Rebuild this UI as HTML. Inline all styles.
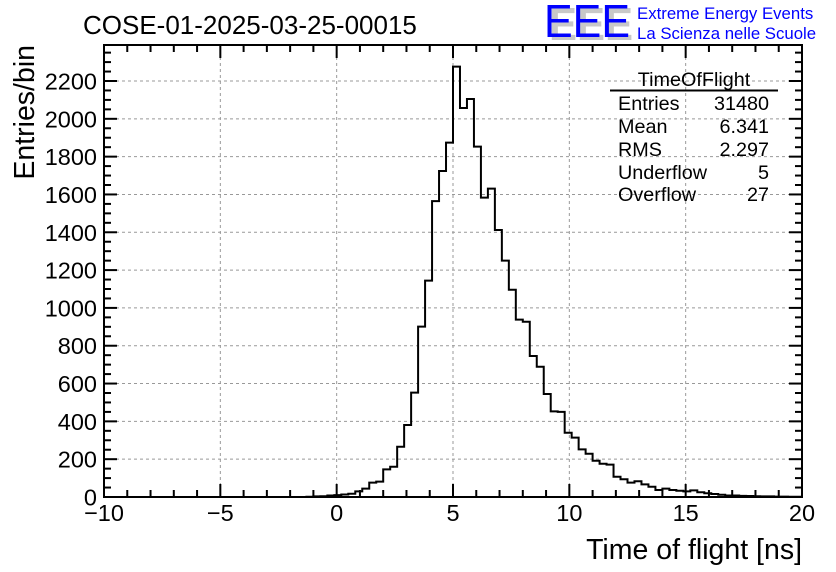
<!DOCTYPE html>
<html><head><meta charset="utf-8">
<style>
html,body{margin:0;padding:0;background:#fff;}
svg{display:block;font-family:"Liberation Sans",sans-serif;}
</style></head>
<body>
<svg id="chart" width="836" height="572" viewBox="0 0 836 572" xmlns="http://www.w3.org/2000/svg">
<rect width="836" height="572" fill="#fff"/>
<text x="83" y="34" font-size="26">COSE-01-2025-03-25-00015</text>
<g>
<text x="549" y="40" font-size="46" fill="#c8c8c8" font-weight="bold" textLength="84" lengthAdjust="spacingAndGlyphs">EEE</text>
<text x="544" y="37" font-size="46" fill="#0000ff" textLength="86" lengthAdjust="spacingAndGlyphs">EEE</text>
<text x="637" y="19" font-size="16.8" fill="#0000ff">Extreme Energy Events</text>
<text x="637" y="39" font-size="16.8" fill="#0000ff">La Scienza nelle Scuole</text>
</g>
<g id="grid"></g>
<g id="ticks"></g>
<path id="hist" fill="none" stroke="#000" stroke-width="2"/>
<rect x="104" y="45" width="698" height="452" fill="none" stroke="#000" stroke-width="2"/>
<g id="labels" font-size="23.5"></g>
<text x="802" y="559" font-size="28.5" text-anchor="end">Time of flight [ns]</text>
<text transform="translate(34,45) rotate(-90)" font-size="28.5" text-anchor="end">Entries/bin</text>
<g font-size="19.8">
<text x="694" y="86" text-anchor="middle">TimeOfFlight</text>
<line x1="610" y1="90.5" x2="778" y2="90.5" stroke="#000" stroke-width="2"/>
<text x="618" y="110">Entries</text><text x="769" y="110" text-anchor="end">31480</text>
<text x="618" y="133">Mean</text><text x="769" y="133" text-anchor="end">6.341</text>
<text x="618" y="156">RMS</text><text x="769" y="156" text-anchor="end">2.297</text>
<text x="618" y="179">Underflow</text><text x="769" y="179" text-anchor="end">5</text>
<text x="618" y="201">Overflow</text><text x="769" y="201" text-anchor="end">27</text>
</g>
</svg>
<script>
const binLow = -10;
const binWidth = 0.3;
const counts = [0,0,0,0,0,0,0,0,0,0, 0,0,0,0,0,0,0,0,0,0, 0,0,0,0,0,0,0,0,0,1,
3,4,8,10,13,17,30,44,76,81,
146,160,266,381,552,901,1144,1565,1724,1874,
2276,2057,2105,1853,1583,1631,1412,1250,1096,938,
927,746,689,545,453,450,340,314,252,229,
192,176,171,107,94,76,83,67,54,37,
44,37,33,30,35,25,20,16,12,8,
8,6,5,4,3,3,2,2,1,1];
const xTicks = [-10,-5,0,5,10,15,20];
const yTicks = [0,200,400,600,800,1000,1200,1400,1600,1800,2000,2200];
const xMin=-10,xMax=20,yMin=0,yMax=2390;
const L=104,R=802,T=45,B=497;
function X(v){return L+(v-xMin)/(xMax-xMin)*(R-L);}
function Y(v){return B-(v-yMin)*(416/2200);}
const NS="http://www.w3.org/2000/svg";
function mk(tag,attrs,parent){const e=document.createElementNS(NS,tag);for(const k in attrs)e.setAttribute(k,attrs[k]);parent.appendChild(e);return e;}
const grid=document.getElementById('grid'),ticks=document.getElementById('ticks'),labels=document.getElementById('labels');
xTicks.forEach(v=>{
  if(v>xMin&&v<xMax){const g=mk('line',{x1:X(v),x2:X(v),y1:T,y2:B,stroke:'#999','stroke-dasharray':'3,3','stroke-width':1},grid);
  
  }
  const t=mk('text',{x:X(v),y:521,'text-anchor':'middle'},labels);
  t.textContent=(v<0?'\u2212'+(-v):''+v);
  
  
});
yTicks.forEach(v=>{
  if(v>0){const g=mk('line',{x1:L,x2:R,y1:Y(v),y2:Y(v),stroke:'#999','stroke-dasharray':'3,3','stroke-width':1},grid);
  
  }
  const t=mk('text',{x:97,y:Y(v)+8.5,'text-anchor':'end'},labels);
  t.textContent=v;
  
  
});
for(let v=xMin;v<=xMax;v++){const len=(v%5===0)?13:7;
  mk('line',{x1:X(v),x2:X(v),y1:B,y2:B-len,stroke:'#000','stroke-width':2},ticks);
  mk('line',{x1:X(v),x2:X(v),y1:T,y2:T+len,stroke:'#000','stroke-width':2},ticks);}
for(let v=0;v<=yMax;v+=50){const len=(v%200===0)?13:7;
  mk('line',{x1:L,x2:L+len,y1:Y(v),y2:Y(v),stroke:'#000','stroke-width':2},ticks);
  mk('line',{x1:R,x2:R-len,y1:Y(v),y2:Y(v),stroke:'#000','stroke-width':2},ticks);}
let d='M'+X(binLow)+','+Y(0);
counts.forEach((c,i)=>{const x0=X(binLow+i*binWidth),x1=X(binLow+(i+1)*binWidth);
  d+=' L'+x0+','+Y(c)+' L'+x1+','+Y(c);});
d+=' L'+X(binLow+counts.length*binWidth)+','+Y(0);
document.getElementById('hist').setAttribute('d',d);
</script>
</body></html>
